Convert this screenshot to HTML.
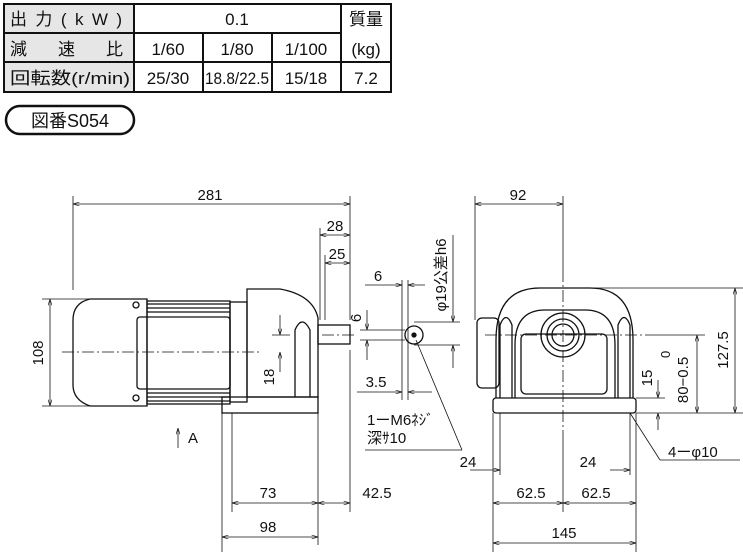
<!DOCTYPE html>
<html><head><meta charset="utf-8"><style>
html,body{margin:0;padding:0;background:#fff;width:743px;height:558px;overflow:hidden}
svg{display:block}
text{font-family:"Liberation Sans","Noto Sans CJK JP",sans-serif;fill:#111}
</style></head><body>
<svg width="743" height="558" viewBox="0 0 743 558" xmlns="http://www.w3.org/2000/svg">
<defs>
<marker id="a" viewBox="0 0 10 6" refX="10" refY="3" markerWidth="8" markerHeight="5" orient="auto-start-reverse"><path d="M0,0 L10,3 L0,6" fill="none" stroke="#111" stroke-width="1"/></marker>
</defs>
<!-- table -->
<rect x="4" y="4" width="130" height="88" fill="#e6e6e6"/>
<g stroke="#111" stroke-width="2" fill="none">
<rect x="4" y="4" width="387" height="88"/>
<line x1="4" y1="33" x2="341" y2="33"/><line x1="4" y1="62" x2="391" y2="62"/>
<line x1="134" y1="4" x2="134" y2="92"/><line x1="341" y1="4" x2="341" y2="92"/>
<line x1="203" y1="33" x2="203" y2="92"/><line x1="272" y1="33" x2="272" y2="92"/>
</g>
<g font-size="17">
<text x="10" y="25" textLength="112">出力(kW)</text>
<text x="10" y="55">減</text><text x="58" y="55">速</text><text x="106" y="55">比</text>
<text x="10" y="84" textLength="120" lengthAdjust="spacingAndGlyphs">回転数(r/min)</text>
<text x="237" y="25" text-anchor="middle">0.1</text>
<text x="366" y="25" text-anchor="middle">質量</text>
<text x="366" y="55" text-anchor="middle">(kg)</text>
<text x="168" y="55" text-anchor="middle">1/60</text>
<text x="237" y="55" text-anchor="middle">1/80</text>
<text x="306" y="55" text-anchor="middle">1/100</text>
<text x="168" y="84" text-anchor="middle">25/30</text>
<text x="237" y="84" text-anchor="middle" textLength="64" lengthAdjust="spacingAndGlyphs">18.8/22.5</text>
<text x="306" y="84" text-anchor="middle">15/18</text>
<text x="366" y="84" text-anchor="middle">7.2</text>
</g>
<rect x="6" y="106" width="128" height="28" rx="14" fill="none" stroke="#111" stroke-width="2.5"/>
<text x="70" y="127" font-size="18" text-anchor="middle">図番S054</text>

<g stroke="#111" fill="none" stroke-width="1.3">
<!-- side view motor -->
<path d="M90,299 L147,299 L147,406 L90,406 Q73,400 73,385 L73,320 Q73,303 90,299 Z"/>
<rect x="147" y="301" width="83" height="103"/>
<rect x="137" y="317" width="93" height="72" rx="3"/>
<line x1="147" y1="304" x2="230" y2="304"/><line x1="147" y1="308" x2="230" y2="308"/><line x1="147" y1="312" x2="230" y2="312"/>
<line x1="147" y1="393" x2="230" y2="393"/><line x1="147" y1="397" x2="230" y2="397"/><line x1="147" y1="401" x2="230" y2="401"/>
<circle cx="136" cy="305" r="3"/><circle cx="136" cy="398" r="3"/>
<rect x="230" y="302" width="17" height="100"/>
<path d="M247,289 L280,289 Q313,295 318,318 L318,397 L247,397 Z"/>
<path d="M295,397 L295,330 Q302,314 310,330 L310,397"/>
<rect x="222" y="397" width="96" height="16"/>
<rect x="318" y="325" width="32" height="19"/>
<!-- front view -->
<rect x="477" y="318" width="22" height="70" rx="5"/>
<path d="M496,398 L496,340 Q496,288 540,288 L590,288 Q633,288 633,340 L633,398"/>
<path d="M515,398 L515,345 Q515,310 545,310 L585,310 Q615,310 615,345 L615,398"/>
<path d="M500,398 L500,325 Q506,310 512,325 L512,398"/>
<path d="M618,398 L618,325 Q624,310 630,325 L630,398"/>
<rect x="521" y="334" width="86" height="60" rx="5"/>
<circle cx="563" cy="335" r="22"/><circle cx="563" cy="335" r="16"/><circle cx="563" cy="335" r="11"/>
<rect x="493" y="398" width="143" height="15" rx="3"/>
<!-- shaft detail -->
<circle cx="414" cy="335" r="9"/><circle cx="414" cy="335" r="2" fill="#111"/>
</g>
<!-- center lines -->
<g stroke="#111" stroke-width="0.8" stroke-dasharray="12,3,2,3" fill="none">
<line x1="62" y1="352" x2="262" y2="352"/>
<line x1="563" y1="270" x2="563" y2="430"/><line x1="485" y1="335" x2="650" y2="335"/>
<line x1="322" y1="335" x2="357" y2="335"/>
</g>
<!-- dims -->
<g stroke="#111" stroke-width="0.8" fill="none">
<line x1="73" y1="290" x2="73" y2="196"/><line x1="350" y1="320" x2="350" y2="196"/>
<line x1="73" y1="204" x2="350" y2="204" marker-start="url(#a)" marker-end="url(#a)"/>
<line x1="320" y1="320" x2="320" y2="228"/>
<line x1="320" y1="235" x2="350" y2="235" marker-start="url(#a)" marker-end="url(#a)"/>
<line x1="325" y1="320" x2="325" y2="255"/>
<line x1="325" y1="263" x2="350" y2="263" marker-start="url(#a)" marker-end="url(#a)"/>
<line x1="42" y1="299" x2="90" y2="299"/><line x1="42" y1="406" x2="90" y2="406"/>
<line x1="50" y1="299" x2="50" y2="406" marker-start="url(#a)" marker-end="url(#a)"/>
<line x1="280" y1="372" x2="280" y2="352" marker-end="url(#a)"/><line x1="280" y1="315" x2="280" y2="335" marker-end="url(#a)"/>
<line x1="272" y1="335" x2="290" y2="335"/>
<line x1="222" y1="413" x2="222" y2="552"/><line x1="232" y1="413" x2="232" y2="512"/>
<line x1="318" y1="413" x2="318" y2="545"/><line x1="350" y1="350" x2="350" y2="512"/>
<line x1="232" y1="503" x2="318" y2="503" marker-start="url(#a)" marker-end="url(#a)"/>
<line x1="222" y1="537" x2="318" y2="537" marker-start="url(#a)" marker-end="url(#a)"/>
<line x1="318" y1="503" x2="350" y2="503" marker-start="url(#a)" marker-end="url(#a)"/>
<line x1="178" y1="448" x2="178" y2="428" marker-end="url(#a)"/>
<!-- shaft detail dims -->
<line x1="402" y1="280" x2="402" y2="400"/><line x1="408" y1="280" x2="408" y2="400"/>
<line x1="365" y1="285" x2="402" y2="285" marker-end="url(#a)"/><line x1="425" y1="285" x2="408" y2="285" marker-end="url(#a)"/>
<line x1="360" y1="330" x2="405" y2="330"/><line x1="360" y1="340" x2="405" y2="340"/>
<line x1="367" y1="310" x2="367" y2="330" marker-end="url(#a)"/><line x1="367" y1="360" x2="367" y2="340" marker-end="url(#a)"/>
<line x1="357" y1="392" x2="402" y2="392" marker-end="url(#a)"/><line x1="432" y1="392" x2="408" y2="392" marker-end="url(#a)"/>
<line x1="414" y1="322" x2="460" y2="322"/><line x1="414" y1="345" x2="460" y2="345"/>
<line x1="453" y1="235" x2="453" y2="322" marker-end="url(#a)"/><line x1="453" y1="368" x2="453" y2="345" marker-end="url(#a)"/>
<line x1="416" y1="340" x2="462" y2="450"/><line x1="365" y1="450" x2="462" y2="450"/>
<!-- front dims -->
<line x1="475" y1="196" x2="475" y2="320"/><line x1="563" y1="196" x2="563" y2="270"/>
<line x1="475" y1="204" x2="563" y2="204" marker-start="url(#a)" marker-end="url(#a)"/>
<line x1="590" y1="288" x2="745" y2="288"/><line x1="636" y1="413" x2="745" y2="413"/>
<line x1="735" y1="288" x2="735" y2="413" marker-start="url(#a)" marker-end="url(#a)"/>
<line x1="650" y1="335" x2="705" y2="335"/>
<line x1="697" y1="335" x2="697" y2="413" marker-start="url(#a)" marker-end="url(#a)"/>
<line x1="636" y1="398" x2="665" y2="398"/>
<line x1="658" y1="380" x2="658" y2="398" marker-end="url(#a)"/><line x1="658" y1="430" x2="658" y2="413" marker-end="url(#a)"/>
<line x1="493" y1="413" x2="493" y2="552"/><line x1="636" y1="413" x2="636" y2="552"/>
<line x1="500" y1="413" x2="500" y2="475"/><line x1="630" y1="413" x2="630" y2="475"/>
<line x1="563" y1="430" x2="563" y2="512"/>
<line x1="493" y1="503" x2="563" y2="503" marker-start="url(#a)" marker-end="url(#a)"/>
<line x1="563" y1="503" x2="636" y2="503" marker-start="url(#a)" marker-end="url(#a)"/>
<line x1="493" y1="543" x2="636" y2="543" marker-start="url(#a)" marker-end="url(#a)"/>
<line x1="470" y1="470" x2="500" y2="470" marker-end="url(#a)"/>
<line x1="610" y1="470" x2="630" y2="470" marker-end="url(#a)"/>
<line x1="630" y1="413" x2="660" y2="460" /><line x1="660" y1="460" x2="740" y2="460"/>
</g>
<g font-size="15">
<text x="210" y="200" text-anchor="middle">281</text>
<text x="335" y="231" text-anchor="middle">28</text>
<text x="337" y="259" text-anchor="middle">25</text>
<text transform="translate(43,353) rotate(-90)" text-anchor="middle">108</text>
<text transform="translate(274,377) rotate(-90)" text-anchor="middle">18</text>
<text x="188" y="443">A</text>
<text x="268" y="498" text-anchor="middle">73</text>
<text x="377" y="498" text-anchor="middle">42.5</text>
<text x="268" y="532" text-anchor="middle">98</text>
<text x="378" y="281" text-anchor="middle">6</text>
<text transform="translate(361,318) rotate(-90)" text-anchor="middle">6</text>
<text x="376" y="387" text-anchor="middle">3.5</text>
<text transform="translate(446,275) rotate(-90)" text-anchor="middle">φ19公差h6</text>
<text x="367" y="425">1ーM6ﾈｼﾞ</text>
<text x="367" y="443">深ｻ10</text>
<text x="468" y="467" text-anchor="middle">24</text>
<text x="518" y="200" text-anchor="middle">92</text>
<text transform="translate(728,350) rotate(-90)" text-anchor="middle">127.5</text>
<text transform="translate(688,380) rotate(-90)" text-anchor="middle">80−0.5</text>
<text transform="translate(670,358) rotate(-90)" font-size="13">0</text>
<text transform="translate(652,378) rotate(-90)" text-anchor="middle">15</text>
<text x="588" y="467" text-anchor="middle">24</text>
<text x="668" y="457">4ーφ10</text>
<text x="531" y="498" text-anchor="middle">62.5</text>
<text x="596" y="498" text-anchor="middle">62.5</text>
<text x="564" y="538" text-anchor="middle">145</text>
</g>
</svg>
</body></html>
